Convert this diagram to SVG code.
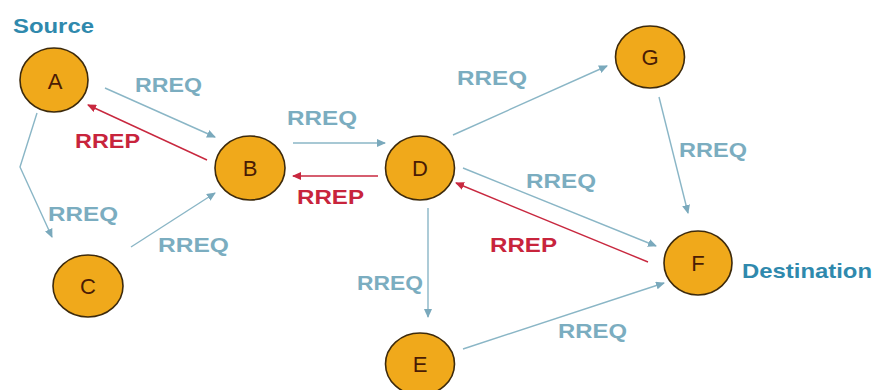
<svg xmlns="http://www.w3.org/2000/svg" width="878" height="390" viewBox="0 0 878 390">
<defs>
<marker id="ab" markerWidth="9" markerHeight="8" refX="8" refY="4" orient="auto" markerUnits="userSpaceOnUse"><path d="M0,0 L9,4 L0,8 Z" fill="#7aa9bc"/></marker>
<marker id="ar" markerWidth="9" markerHeight="8" refX="8" refY="4" orient="auto" markerUnits="userSpaceOnUse"><path d="M0,0 L9,4 L0,8 Z" fill="#c8283f"/></marker>
</defs>
<style>
.node ellipse{fill:#f0a91b;stroke:#3d2a0c;stroke-width:1.6}
.node text{font-family:"Liberation Sans",Arial,sans-serif;font-size:22px;fill:#4a1c05;text-anchor:middle}
.q{stroke:#8ab6c6;stroke-width:1.4;fill:none;marker-end:url(#ab)}
.p{stroke:#c8283f;stroke-width:1.4;fill:none;marker-end:url(#ar)}
.lq{font-family:"Liberation Sans",Arial,sans-serif;font-weight:bold;font-size:21px;fill:#7badc0}
.lp{font-family:"Liberation Sans",Arial,sans-serif;font-weight:bold;font-size:21px;fill:#c8243c}
.ld{font-family:"Liberation Sans",Arial,sans-serif;font-weight:bold;font-size:21px;fill:#2f89ad}
</style>
<rect width="878" height="390" fill="#ffffff"/>
<g id="connectors">
<line class="q" x1="105" y1="88" x2="215" y2="137"/>
<line class="p" x1="207" y1="160" x2="88" y2="105"/>
<polyline class="q" points="37,113 20,167 52,237"/>
<line class="q" x1="131" y1="247" x2="215" y2="193"/>
<line class="q" x1="293" y1="143" x2="385" y2="143"/>
<line class="p" x1="378" y1="176" x2="293" y2="176"/>
<line class="q" x1="453" y1="135" x2="607" y2="66"/>
<line class="q" x1="659" y1="97" x2="688" y2="213"/>
<line class="q" x1="463" y1="168" x2="656" y2="246"/>
<line class="p" x1="648" y1="262" x2="456" y2="183"/>
<line class="q" x1="428" y1="208" x2="428" y2="317"/>
<line class="q" x1="463" y1="349" x2="664" y2="283"/>
</g>
<g id="labels">
<text class="ld" x="13" y="33" textLength="81" lengthAdjust="spacingAndGlyphs">Source</text>
<text class="ld" x="742" y="278" textLength="130" lengthAdjust="spacingAndGlyphs">Destination</text>
<text class="lq" x="135" y="92" textLength="67" lengthAdjust="spacingAndGlyphs">RREQ</text>
<text class="lp" x="75" y="148" textLength="65" lengthAdjust="spacingAndGlyphs">RREP</text>
<text class="lq" x="287" y="125" textLength="70" lengthAdjust="spacingAndGlyphs">RREQ</text>
<text class="lp" x="297" y="204" textLength="67" lengthAdjust="spacingAndGlyphs">RREP</text>
<text class="lq" x="457" y="85" textLength="70" lengthAdjust="spacingAndGlyphs">RREQ</text>
<text class="lq" x="679" y="157" textLength="68" lengthAdjust="spacingAndGlyphs">RREQ</text>
<text class="lq" x="526" y="188" textLength="70" lengthAdjust="spacingAndGlyphs">RREQ</text>
<text class="lp" x="490" y="252" textLength="67" lengthAdjust="spacingAndGlyphs">RREP</text>
<text class="lq" x="357" y="290" textLength="66" lengthAdjust="spacingAndGlyphs">RREQ</text>
<text class="lq" x="558" y="338" textLength="69" lengthAdjust="spacingAndGlyphs">RREQ</text>
<text class="lq" x="48" y="221" textLength="70" lengthAdjust="spacingAndGlyphs">RREQ</text>
<text class="lq" x="158" y="252" textLength="71" lengthAdjust="spacingAndGlyphs">RREQ</text>
</g>
<g id="A" class="node"><ellipse cx="54" cy="80" rx="34" ry="32"/><text x="55" y="89">A</text></g>
<g id="B" class="node"><ellipse cx="250" cy="168" rx="35" ry="32"/><text x="250" y="176">B</text></g>
<g id="C" class="node"><ellipse cx="88" cy="286" rx="35" ry="31"/><text x="88" y="294">C</text></g>
<g id="D" class="node"><ellipse cx="420" cy="168" rx="34.5" ry="32"/><text x="420" y="176">D</text></g>
<g id="E" class="node"><ellipse cx="420" cy="364" rx="34.5" ry="31"/><text x="420" y="372">E</text></g>
<g id="F" class="node"><ellipse cx="698" cy="263" rx="34" ry="32"/><text x="698" y="271">F</text></g>
<g id="G" class="node"><ellipse cx="650" cy="57" rx="34.5" ry="31"/><text x="650" y="65">G</text></g>
</svg>
